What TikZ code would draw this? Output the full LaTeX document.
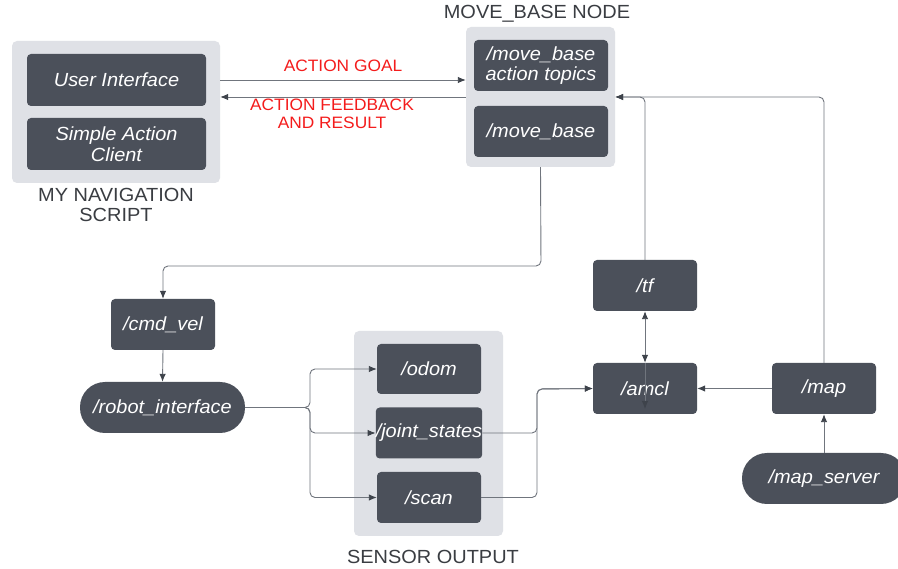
\documentclass[tikz,border=0pt]{standalone}
\usepackage{fontspec}
\setmainfont{Liberation Sans}[FakeStretch=1.05]
\usetikzlibrary{arrows.meta}
\definecolor{boxfill}{HTML}{4B505A}
\definecolor{groupfill}{HTML}{DFE1E6}
\definecolor{wirecol}{HTML}{70757D}
\definecolor{tipcol}{HTML}{3E434B}
\definecolor{labelred}{HTML}{F41C1C}
\definecolor{labelgray}{HTML}{3A3D42}
\tikzset{
  topic/.style={rectangle, rounded corners=4pt, fill=boxfill, text=white,
    font=\fontsize{19}{20.5}\selectfont\itshape, inner sep=0pt, align=center,
    minimum width=104pt, minimum height=51pt},
  pill/.style={topic, rounded corners=25pt},
  group/.style={rectangle, rounded corners=5pt, fill=groupfill, inner sep=0pt},
  caption/.style={text=labelgray, font=\fontsize{19}{20.5}\selectfont, align=center},
  redcap/.style={text=labelred, font=\fontsize{16.5}{18}\selectfont, align=center},
  wire/.style={draw=wirecol, line width=0.9pt, rounded corners=5pt,
    -{Latex[length=8pt,width=6.5pt,color=tipcol]}},
  twowire/.style={wire, {Latex[length=8pt,width=6.5pt,color=tipcol]}-{Latex[length=8pt,width=6.5pt,color=tipcol]}},
}
\begin{document}
\begin{tikzpicture}[x=1pt,y=-1pt]
\clip (0,0) rectangle (898,569);
\fill[white] (0,0) rectangle (898,569);

% navigation script group
\node[group, minimum width=208pt, minimum height=142pt] (navgroup) at (116,112) {};
\node[topic, minimum width=179pt, minimum height=52pt] (ui) at (116.5,80) {User Interface};
\node[topic, minimum width=179pt, minimum height=52pt] (sac) at (116.5,144) {Simple Action\\Client};
\node[caption] (navlabel) at (116,205) {MY NAVIGATION\\SCRIPT};

% move_base group
\node[group, minimum width=149pt, minimum height=140pt] (mbgroup) at (540.5,97) {};
\node[topic, minimum width=134pt] (mbat) at (541,65.5) {/move\_base\\action topics};
\node[topic, minimum width=134pt] (mb) at (541,131.5) {/move\_base};
\node[caption] (mblabel) at (537,14) {MOVE\_BASE NODE};

% action messages
\draw[wire] (ui.east -| navgroup.east) -- (ui.east -| mbgroup.west);
\draw[wire] (mbgroup.west) -- (mbgroup.west -| navgroup.east);
\node[redcap] (goallabel) at (343,66) {ACTION GOAL};
\node[redcap] (fblabel) at (332,114) {ACTION FEEDBACK\\AND RESULT};

% velocity command path
\node[topic] (cmdvel) at (163,324.5) {/cmd\_vel};
\node[pill, minimum width=165pt] (robot) at (162.5,407.5) {/robot\_interface};
\coordinate (mbdrop) at (541,266);
\draw[wire] (mbgroup.south) -- (mbdrop) -| (cmdvel.north);
\draw[wire] (cmdvel.south) -- (robot.north);

% sensor group
\node[group, minimum width=149pt, minimum height=205pt] (sensgroup) at (428.5,433.5) {};
\node[topic, minimum height=50pt] (odom) at (429,369) {/odom};
\node[topic] (joint) at (429,433) {/joint\_states};
\node[topic] (scan) at (429,497.5) {/scan};
\node[caption] (senslabel) at (433,557) {SENSOR OUTPUT};

\coordinate (split) at (310,407.5);
\draw[wire] (robot.east) -- (split) |- (odom.west);
\draw[wire] (robot.east) -- (split) |- (joint.west);
\draw[wire] (robot.east) -- (split) |- (scan.west);

% localisation
\node[topic] (tf) at (645,285.5) {/tf};
\node[topic] (amcl) at (645,388.5) {/amcl};
\node[topic] (map) at (824,388.5) {/map};
\node[pill, minimum width=164pt] (mapserver) at (824,478.5) {/map\_server};

\coordinate (merge) at (537,389);
\draw[wire] (joint.east) -| (merge) -- (amcl.west);
\draw[wire] (scan.east) -| (merge) -- (amcl.west);

\draw[wire] (map.west) -- (amcl.east);
\draw[wire] (mapserver.north) -- (map.south);
\draw[twowire] (amcl.north) -- (tf.south);
\coordinate (amclpin) at (645,409);
\draw[wire] (amcl.north) -- (amclpin);

\draw[wire] (tf.north) |- (mbgroup.east);
\draw[wire] (map.north) |- (mbgroup.east);
\end{tikzpicture}
\end{document}
